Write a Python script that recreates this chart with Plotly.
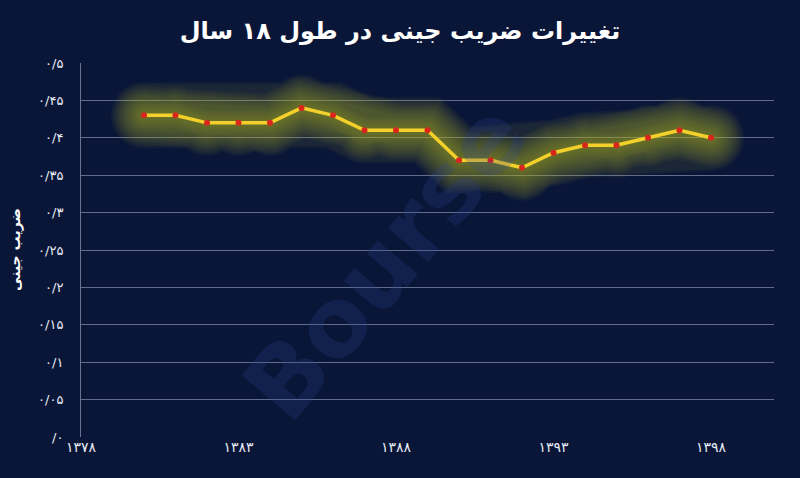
import plotly.graph_objects as go

years = list(range(1380, 1399))
gini = [0.43, 0.43, 0.42, 0.42, 0.42, 0.44, 0.43, 0.41, 0.41, 0.41,
        0.37, 0.37, 0.36, 0.38, 0.39, 0.39, 0.40, 0.41, 0.40]

y_tickvals = [0, 0.05, 0.1, 0.15, 0.2, 0.25, 0.3, 0.35, 0.4, 0.45, 0.5]
y_ticktext = ["/۰", "۰/۰۵", "۰/۱", "۰/۱۵", "۰/۲", "۰/۲۵", "۰/۳", "۰/۳۵", "۰/۴", "۰/۴۵", "۰/۵"]
x_tickvals = [1378, 1383, 1388, 1393, 1398]
x_ticktext = ["۱۳۷۸", "۱۳۸۳", "۱۳۸۸", "۱۳۹۳", "۱۳۹۸"]

title_text = "تغییرات ضریب جینی در طول ۱۸ سال"
ytitle_text = "ضریب جینی"

fig = go.Figure()

# glow layers (trace opacity so line+markers composite once per layer)
for i in range(16):
    w = 66 - i * 4
    fig.add_trace(go.Scatter(x=years, y=gini, mode="lines+markers",
                             line=dict(color="rgb(175,180,40)", width=w),
                             marker=dict(color="rgb(175,180,40)", size=w, line=dict(width=0)),
                             opacity=0.05, hoverinfo="skip", showlegend=False))

fig.add_trace(go.Scatter(x=years, y=gini, mode="lines+markers",
                         line=dict(color="#f4d02a", width=3.5),
                         marker=dict(color="#d8261c", size=6),
                         showlegend=False))

fig.add_annotation(text="<b>Bourse</b>", x=0.44, y=0.47, xref="paper", yref="paper",
                   showarrow=False, textangle=-50,
                   font=dict(family="DejaVu Sans", size=96, color="rgba(45,70,150,0.22)"))

fig.add_annotation(text="<b>" + ytitle_text + "</b>", x=-66 / 693, y=0.5, xref="paper", yref="paper",
                   showarrow=False, textangle=-90, xanchor="center", yanchor="middle",
                   font=dict(family="DejaVu Sans", size=14, color="white"))

fig.update_layout(
    width=800, height=478,
    paper_bgcolor="#0a1638",
    plot_bgcolor="#0a1638",
    margin=dict(l=81, r=26, t=63, b=41, autoexpand=False),
    title=dict(text="<b>" + title_text + "</b>", x=0.5, xanchor="center", y=0.935, yanchor="middle",
               font=dict(family="DejaVu Sans", size=24, color="white")),
    xaxis=dict(range=[1378, 1400], tickvals=x_tickvals, ticktext=x_ticktext,
               showgrid=False, zeroline=False, showline=False, automargin=False,
               tickfont=dict(family="DejaVu Sans", size=14, color="#e8ecf5"), ticks=""),
    yaxis=dict(range=[0, 0.5], tickvals=y_tickvals, ticktext=y_ticktext,
               showgrid=True, gridcolor="rgba(170,180,205,0.55)", gridwidth=1,
               zeroline=False, showline=True, linecolor="rgba(170,180,205,0.6)",
               tickfont=dict(family="DejaVu Sans", size=13, color="#e8ecf5"), ticks="",
               ticklabelstandoff=14, automargin=False),
)

fig.write_html("out.html", config={"displayModeBar": False},
               post_script="document.body.style.margin='0';document.body.style.overflow='hidden';")
